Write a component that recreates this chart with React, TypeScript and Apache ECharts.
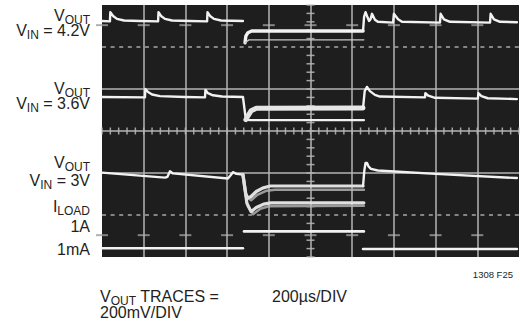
import React, { useEffect, useRef } from 'react';
import * as echarts from 'echarts';

// ---- axes (oscilloscope graticule) ----
const TIME_MAX = 2000; // µs (200µs/DIV x 10 DIV)
const TIME_DIV = 200;
const V_MIN = -3; // vertical divisions, centre = 0
const V_MAX = 3;

// ---- traces: [time µs, vertical position in divisions] ----
const vin42Pre = [[0, 2.62], [38, 2.61], [40, 2.83], [53, 2.74], [72, 2.67], [106, 2.63], [182, 2.62], [269, 2.61], [271, 2.83], [283, 2.74], [302, 2.67], [336, 2.63], [422, 2.62], [504, 2.61], [506, 2.83], [518, 2.74], [537, 2.67], [571, 2.63], [676, 2.62]];
const vin42LoadUpper = [[686, 2.10], [690, 2.26], [700, 2.34], [718, 2.38], [1252, 2.38]];
const vin42LoadLower = [[686, 2.10], [705, 2.17], [1256, 2.17]];
const vin42Post = [[1252, 2.38], [1257, 2.72], [1264, 2.83], [1271, 2.74], [1281, 2.62], [1288, 2.66], [1295, 2.79], [1309, 2.65], [1323, 2.60], [1396, 2.58], [1400, 2.79], [1420, 2.66], [1439, 2.60], [1621, 2.58], [1624, 2.79], [1640, 2.66], [1669, 2.60], [1861, 2.58], [1864, 2.79], [1880, 2.66], [1909, 2.60], [1990, 2.59]];

const vin36Pre = [[0, 0.81], [206, 0.80], [208, 1.00], [221, 0.93], [240, 0.87], [278, 0.83], [398, 0.81], [494, 0.80], [496, 0.98], [508, 0.90], [532, 0.85], [576, 0.82], [676, 0.81], [690, 0.27], [710, 0.26], [1256, 0.26]];
const vin36LoadUpper = [[690, 0.27], [700, 0.36], [715, 0.48], [740, 0.54], [1252, 0.55]];
const vin36Post = [[1252, 0.55], [1260, 0.95], [1271, 1.05], [1285, 0.95], [1309, 0.86], [1333, 0.82], [1549, 0.80], [1551, 0.90], [1565, 0.84], [1597, 0.79], [1803, 0.77], [1805, 0.90], [1820, 0.83], [1850, 0.78], [1990, 0.76]];

const vin3Pre = [[0, -0.99], [302, -1.11], [314, -1.09], [326, -0.96], [340, -1.01], [604, -1.13], [616, -1.06], [628, -0.98], [645, -1.02], [676, -1.04]];
const vin3LoadUpper = [[676, -1.04], [690, -1.50], [700, -1.60], [715, -1.56], [740, -1.44], [770, -1.36], [806, -1.31], [1252, -1.31]];
const vin3LoadUpperDim = [[690, -1.55], [715, -1.65], [745, -1.52], [790, -1.42], [830, -1.40], [1256, -1.40]];
const vin3LoadLower = [[676, -1.04], [695, -1.72], [715, -1.92], [740, -1.82], [775, -1.74], [810, -1.71], [1256, -1.71]];
const vin3LoadLowerDim = [[700, -1.80], [725, -1.98], [760, -1.85], [800, -1.79], [1256, -1.78]];
const vin3Post = [[1252, -1.31], [1258, -0.95], [1264, -0.76], [1271, -0.76], [1278, -0.84], [1290, -0.90], [1323, -0.94], [1600, -1.02], [1990, -1.12]];

const iLoadLow1 = [[0, -2.79], [676, -2.79]];
const iLoadHigh = [[681, -2.39], [1256, -2.39]];
const iLoadLow2 = [[1252, -2.81], [1990, -2.81]];

// graticule rows/columns (divisions / µs)
const MARK_ROWS = [2.52, -2.48];
const DASHED_ROWS = [2, -2];
const SOLID_ROWS = [1, 0, -1];
const GRID_COLS = [200, 400, 600, 800, 1000, 1200, 1400, 1600, 1800];

const FONT = '"Liberation Sans", Arial, Helvetica, sans-serif';
const TEXT_COLOR = '#231f20';
const SCREEN = '#1e1e1e';

type Part = [string, number];
const LEFT_LABELS: { parts: Part[]; base: number }[] = [
  { parts: [['V', 0], ['OUT', 1]], base: 21 },
  { parts: [['V', 0], ['IN', 1], [' = 4.2V', 0]], base: 36 },
  { parts: [['V', 0], ['OUT', 1]], base: 94 },
  { parts: [['V', 0], ['IN', 1], [' = 3.6V', 0]], base: 109 },
  { parts: [['V', 0], ['OUT', 1]], base: 168 },
  { parts: [['V', 0], ['IN', 1], [' = 3V', 0]], base: 186 },
  { parts: [['I', 0], ['LOAD', 1]], base: 212 },
  { parts: [['1A', 0]], base: 232 },
  { parts: [['1mA', 0]], base: 255 },
];

const GRID = { left: 102, top: 5, width: 417, height: 252 };

function buildOption() {
  const canvas = document.createElement('canvas');
  const ctx = canvas.getContext('2d')!;
  const MAIN = 16;
  const SUB = 12;
  const tw = (t: string, s: number) => {
    ctx.font = `${s}px ${FONT}`;
    return ctx.measureText(t).width;
  };
  const textEl = (text: string, x: number, base: number, size: number, align = 'left') => ({
    type: 'text',
    x,
    y: base - size * 0.3465,
    silent: true,
    z: 10,
    style: {
      text,
      fill: TEXT_COLOR,
      font: `${size}px ${FONT}`,
      fontSize: size,
      fontFamily: FONT,
      align,
      textAlign: align,
      verticalAlign: 'middle',
      textVerticalAlign: 'middle',
    },
  });
  const richLine = (parts: Part[], left: number | null, right: number | null, base: number) => {
    const widths = parts.map(([t, s]) => tw(t, s ? SUB : MAIN));
    const total = widths.reduce((a, b) => a + b, 0);
    let x = left !== null ? left : (right as number) - total;
    const els: any[] = [];
    parts.forEach(([t, s], i) => {
      els.push(textEl(t, x, s ? base + 3 : base, s ? SUB : MAIN));
      x += widths[i];
    });
    return els;
  };

  const graphics: any[] = [];
  LEFT_LABELS.forEach((l) => graphics.push(...richLine(l.parts, null, 90, l.base)));
  graphics.push(...richLine([['V', 0], ['OUT', 1], [' TRACES =', 0]], 100, null, 302));
  graphics.push(...richLine([['200mV/DIV', 0]], 100, null, 318));
  graphics.push(...richLine([['200µs/DIV', 0]], 272, null, 302));
  graphics.push(textEl('1308 F25', 513, 278, 9.5, 'right'));

  const TRACE = '#f2f2f2';
  const line = (data: number[][], width = 2.4, color = TRACE, z = 5) => ({
    type: 'line',
    data,
    showSymbol: false,
    symbol: 'none',
    silent: true,
    smooth: false,
    z,
    lineStyle: { color, width, cap: 'round', join: 'round' },
  });

  // graticule ticks
  const hTicks: number[][] = [];
  for (let t = 0; t <= TIME_MAX; t += TIME_DIV / 5) hTicks.push([t, 0]);
  const vTicks: number[][] = [];
  for (let i = V_MIN * 5; i <= V_MAX * 5; i++) vTicks.push([TIME_MAX / 2, i / 5]);
  const marks: number[][] = [];
  MARK_ROWS.forEach((r) => {
    for (let t = 0; t < TIME_MAX; t += TIME_DIV) marks.push([t, r]);
  });

  const gridLineColor = '#b4b4b4';

  return {
    animation: false,
    backgroundColor: '#ffffff',
    grid: { ...GRID, show: true, backgroundColor: SCREEN, borderWidth: 0 },
    xAxis: {
      type: 'value',
      min: 0,
      max: TIME_MAX,
      interval: TIME_DIV,
      axisLine: { show: false },
      axisTick: { show: false },
      axisLabel: { show: false },
      splitLine: { show: false },
    },
    yAxis: {
      type: 'value',
      min: V_MIN,
      max: V_MAX,
      interval: 1,
      axisLine: { show: false },
      axisTick: { show: false },
      axisLabel: { show: false },
      splitLine: { show: false },
    },
    graphic: { elements: graphics },
    series: [
      {
        type: 'line',
        data: [],
        silent: true,
        z: 2,
        markLine: {
          silent: true,
          symbol: ['none', 'none'],
          label: { show: false },
          animation: false,
          data: [
            ...GRID_COLS.map((c) => ({ xAxis: c, lineStyle: { color: gridLineColor, width: 1.5, type: 'solid' } })),
            ...DASHED_ROWS.map((r) => ({ yAxis: r, lineStyle: { color: '#a8a8a8', width: 1.6, type: [4, 4.6] } })),
            ...SOLID_ROWS.map((r) => ({ yAxis: r, lineStyle: { color: gridLineColor, width: 1.5, type: 'solid' } })),
          ],
        },
      },
      { type: 'scatter', data: hTicks, symbol: 'rect', symbolSize: [1.5, 7], itemStyle: { color: '#c4c4c4' }, silent: true, z: 3 },
      { type: 'scatter', data: vTicks, symbol: 'rect', symbolSize: [8, 1.5], itemStyle: { color: '#c4c4c4' }, silent: true, z: 3 },
      { type: 'scatter', data: marks, symbol: 'rect', symbolSize: [12, 2], itemStyle: { color: '#9c9c9c' }, silent: true, z: 3 },

      line(vin42Pre),
      line(vin42LoadUpper, 3.4),
      line(vin42LoadLower, 1.3, '#c8c8c8'),
      line(vin42Post),

      line(vin36Pre),
      line(vin36LoadUpper, 5, '#e6e6e6'),
      line(vin36Post),

      line(vin3Pre),
      line(vin3LoadUpperDim, 2.5, '#9a9a9a', 4),
      line(vin3LoadLowerDim, 2.5, '#9a9a9a', 4),
      line(vin3LoadUpper, 3.2, '#e0e0e0'),
      line(vin3LoadLower, 3.2, '#e0e0e0'),
      line(vin3Post),

      line(iLoadLow1, 2.6),
      line(iLoadHigh, 2.6),
      line(iLoadLow2, 2.6),
    ],
  };
}

export default function App() {
  const ref = useRef<HTMLDivElement>(null);
  useEffect(() => {
    document.body.style.margin = '0';
    const chart = echarts.init(ref.current!, null, { renderer: 'svg' });
    chart.setOption(buildOption() as any);
    return () => chart.dispose();
  }, []);
  return <div ref={ref} style={{ width: 520, height: 322 }} />;
}
